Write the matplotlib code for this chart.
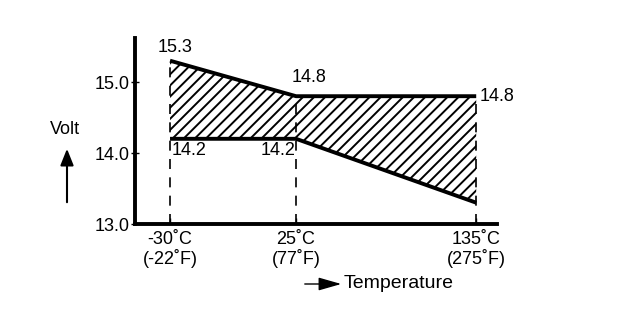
import matplotlib
matplotlib.use("Agg")
import matplotlib.pyplot as plt

temps_c = ["-30˚C", "25˚C", "135˚C"]
temps_f = ["(-22˚F)", "(77˚F)", "(275˚F)"]
x_pos = [0.0, 1.0, 2.43]
upper = [15.3, 14.8, 14.8]
lower = [14.2, 14.2, 13.3]
y_ticks = [13.0, 14.0, 15.0]

plt.rcParams['font.family'] = ['Liberation Sans', 'DejaVu Sans']
plt.rcParams['hatch.linewidth'] = 1.4

fig = plt.figure(figsize=(6.4, 3.18), dpi=100)
ax = fig.add_axes([135/640, 1-224/318, (497-135)/640, (224-38)/318])
ax.set_xlim(-0.278, 2.595)
ax.set_ylim(13.0, 13.0 + (224-38)/71)

ax.fill_between(x_pos, lower, upper, facecolor='white', edgecolor='black',
                hatch='///', linewidth=0)
ax.plot(x_pos, upper, color='black', lw=2.8, solid_capstyle='butt')
ax.plot(x_pos, lower, color='black', lw=2.8, solid_capstyle='butt')
for x, u in zip(x_pos, upper):
    ax.plot([x, x], [13.0, u], color='black', lw=1.2, ls=(0, (6, 5)))

for s in ['top', 'right']:
    ax.spines[s].set_visible(False)
ax.spines['left'].set_linewidth(2.8)
ax.spines['bottom'].set_linewidth(2.8)

fs = 13
ax.set_yticks(y_ticks)
ax.set_yticklabels([f"{v:.1f}" for v in y_ticks], fontsize=fs)
ax.set_xticks(x_pos)
ax.set_xticklabels([f"{c}\n{f}" for c, f in zip(temps_c, temps_f)], fontsize=fs,
                   linespacing=1.05)
ax.tick_params(axis='y', direction='inout', length=6, width=1, pad=1)
ax.tick_params(axis='x', direction='in', length=4, width=1, pad=5)

ax.annotate(f"{upper[0]}", (x_pos[0], upper[0]), xytext=(-12, 5),
            textcoords='offset pixels', ha='left', va='bottom', fontsize=fs)
ax.annotate(f"{upper[1]}", (x_pos[1], upper[1]), xytext=(-4, 10),
            textcoords='offset pixels', ha='left', va='bottom', fontsize=fs)
ax.annotate(f"{upper[2]}", (x_pos[2], upper[2]), xytext=(3, 0),
            textcoords='offset pixels', ha='left', va='center', fontsize=fs)
ax.annotate(f"{lower[0]}", (x_pos[0], lower[0]), xytext=(2, -3),
            textcoords='offset pixels', ha='left', va='top', fontsize=fs)
ax.annotate(f"{lower[1]}", (x_pos[1], lower[1]), xytext=(-1, -3),
            textcoords='offset pixels', ha='right', va='top', fontsize=fs)

fig.text(65/640, 1-129/318, "Volt", ha='center', va='center', fontsize=fs)
fig.add_artist(matplotlib.patches.FancyArrowPatch(
    (67/640, 1-205/318), (67/640, 1-146/318), transform=fig.transFigure,
    arrowstyle='-|>,head_length=5,head_width=2', color='black', lw=1.5,
    mutation_scale=2))

fig.add_artist(matplotlib.patches.FancyArrowPatch(
    (302/640, 1-284/318), (344/640, 1-284/318), transform=fig.transFigure,
    arrowstyle='-|>,head_length=7,head_width=2', color='black', lw=1.0,
    mutation_scale=2))
fig.text(344/640, 1-284/318, "Temperature", ha='left', va='center', fontsize=14)

fig.savefig("out.png", dpi=100)
